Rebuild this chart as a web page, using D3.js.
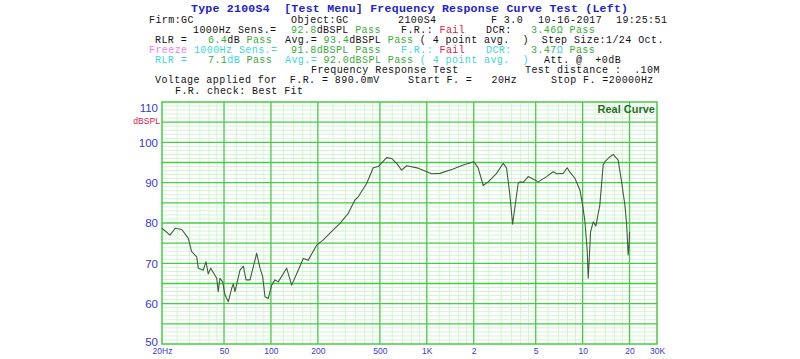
<!DOCTYPE html>
<html><head><meta charset="utf-8">
<script src="https://cdn.jsdelivr.net/npm/d3@7"></script>
<style>body{margin:0;background:#fff}svg{display:block}text{white-space:pre}</style>
</head><body>
<svg id="c" width="800" height="359"></svg>
<script>
// ---------- data ----------
const freqs = [20,22.5,24.3,26.8,29.5,31.0,33.4,34.2,36.8,38.3,39.6,41.1,44.9,45.9,47.1,49.0,50.7,53.3,56.0,57.3,58.8,63.3,66.5,69.2,73.4,81.0,85.1,88.5,91.6,96.1,101.1,106.1,111.4,126.1,135.8,149.7,161.2,173.5,196.5,216.6,251.1,277.2,313.4,345.9,363.3,411.2,453.3,488.1,552.5,594.7,640.4,689.3,742.1,881.1,1074,1214,1478,1712,2006,2138,2302,2478,2805,3092,3251,3414,3553,3730,3859,3957,4155,4473,4703,5185,5871,6471,6805,7504,7958,8282,8917,9600,9992,10337,10694,10853,11014,11245,11686,12161,12897,13542,13886,14945,15693,16905,17775,18665,19140,19596,19887,20000];
const spl = [78.7,77.0,78.7,78.4,76.2,72.9,71.6,68.8,68.3,70.4,67.4,68.8,66.3,63.0,66.3,65.4,62.2,60.5,63.8,64.9,63.0,68.3,69.3,65.9,65.9,72.5,68.8,66.7,61.7,61.3,64.6,65.9,65.4,68.8,64.6,68.3,71.2,70.8,74.5,75.8,78.3,79.9,82.4,85.7,86.5,89.8,93.7,94.0,96.2,96.0,94.8,93.1,94.2,93.6,92.2,92.3,93.4,94.4,95.2,93.6,89.3,90.2,92.3,94.8,93.6,86.9,79.7,85.7,89.8,90.2,90.1,91.5,91.1,90.2,91.5,92.7,92.2,92.3,93.7,92.6,91.1,88.2,84.5,80.5,73.3,66.3,70.8,77.8,80.3,79.3,84.5,94.4,95.2,96.4,97.0,95.6,90.2,84.5,79.9,72.1,75.0,77.8];
const yTicks = [50,60,70,80,90,100,110];
const xTickValues = [20,50,100,200,500,1000,2000,5000,10000,20000,30000];
const xTickLabels = ["20Hz","50","100","200","500","1K","2","5","10","20","30K"];
const majorX = [50,100,200,500,1000,2000,5000,10000,20000];
const minorMult = [1.2,1.4,1.6,1.8,2.5,3,3.5,4,4.5,6,7,8,9];

// header lines: [segments [text,color]], x, baseline y
const K="#111", G="#3aaa3a", R="#e0204a", C="#3dd6d6", P="#f080f0";
const header = [
  [[["Firm:GC",K]],149,23],
  [[["Object:GC",K]],291,23],
  [[["2100S4",K]],398,23],
  [[["F 3.0",K]],491,23],
  [[["10-16-2017",K]],538,23],
  [[["19:25:51",K]],616,23],
  [[["1000Hz Sens.=",K]],193,33],
  [[["92.8",G],["dBSPL",K],[" Pass",G]],291,33],
  [[["F.R.: ",K],["Fail",R]],401,33],
  [[["DCR:",K]],486,33],
  [[["3.46\u03A9 Pass",G]],531,33],
  [[["RLR =",K]],155,43],
  [[["6.4",G],["dB ",K],["Pass",G]],208,43],
  [[["Avg.= ",K],["93.4",G],["dBSPL",K],[" Pass",G],[" ( 4 point avg.  )  Step Size:1/24 Oct.",K]],285,43],
  [[["Freeze ",P],["1000Hz Sens.=",C]],149,53],
  [[["91.8dBSPL Pass",G]],291,53],
  [[["F.R.: ",C],["Fail",R]],401,53],
  [[["DCR:",C]],486,53],
  [[["3.47",G],["\u03A9",C],[" Pass",G]],531,53],
  [[["RLR =",C]],155,63],
  [[["7.1",G],["dB ",C],["Pass",G]],208,63],
  [[["Avg.= ",C],["92.0dBSPL Pass",G],[" ( 4 point avg.  )",C]],285,63],
  [[["Att. @  +0dB",K]],544,63],
  [[["Frequency Response Test",K]],311,73],
  [[["Test distance :  .10M",K]],525,73],
  [[["Voltage applied for  F.R. = 890.0mV",K]],155,83],
  [[["Start F. =   20Hz",K]],408,83],
  [[["Stop F. =20000Hz",K]],551,83],
  [[["F.R. check: Best Fit",K]],175,93.5]
];

// ---------- drawing ----------
const svg = d3.select("#c");
const L=162, T=102, Rr=657, B=344;
const x = d3.scaleLog().domain([20,30000]).range([L,Rr]);
const y = d3.scaleLinear().domain([50,110]).range([B,T]);
const MONO = "'Liberation Mono','Courier New',monospace";
const FS = 10, LS = 0.42, CW = FS*0.6 + LS;

// title
svg.append("text").attr("x",191).attr("y",12)
  .attr("font-family",MONO).attr("font-weight","bold")
  .attr("font-size",11.5).attr("fill","#2222cc")
  .attr("textLength",437).attr("lengthAdjust","spacing")
  .text("Type 2100S4  [Test Menu] Frequency Response Curve Test (Left)");

// header segments, each as its own text
header.forEach(([segs,hx,hy])=>{
  let col = 0;
  segs.forEach(([s,c])=>{
    const lead = s.length - s.trimStart().length;
    const body = s.trim();
    if (body.length) {
      svg.append("text").attr("x",hx+(col+lead)*CW).attr("y",hy)
        .attr("font-family",MONO).attr("font-size",FS)
        .attr("letter-spacing",LS).attr("fill",c).text(body);
    }
    col += s.length;
  });
});

// grid
const g = svg.append("g");
const minorXVals = [];
[10,100,1000,10000].forEach(dec=>minorMult.forEach(m=>{const f=Math.round(dec*m); if(f>20&&f<30000&&!majorX.includes(f)) minorXVals.push(f);}));
const minorY = d3.range(50,111,1).filter(v=>v%5!==0);
g.selectAll(".mx").data(minorXVals).join("line")
  .attr("x1",d=>x(d)).attr("x2",d=>x(d)).attr("y1",T).attr("y2",B)
  .attr("stroke","#d2f3d2").attr("stroke-width",1);
g.selectAll(".my").data(minorY).join("line")
  .attr("x1",L).attr("x2",Rr).attr("y1",d=>y(d)).attr("y2",d=>y(d))
  .attr("stroke","#d2f3d2").attr("stroke-width",1);
g.selectAll(".Mx").data(majorX).join("line")
  .attr("x1",d=>x(d)).attr("x2",d=>x(d)).attr("y1",T).attr("y2",B)
  .attr("stroke","#44cc44").attr("stroke-width",1.3);
g.selectAll(".My").data(d3.range(55,110,5)).join("line")
  .attr("x1",L).attr("x2",Rr).attr("y1",d=>y(d)).attr("y2",d=>y(d))
  .attr("stroke","#44cc44").attr("stroke-width",1.3);
g.append("rect").attr("x",L).attr("y",T).attr("width",Rr-L).attr("height",B-T)
  .attr("fill","none").attr("stroke","#44cc44").attr("stroke-width",1.5);

// curve
const line = d3.line().x((d,i)=>x(freqs[i])).y(d=>y(d));
svg.append("path").attr("d",line(spl)).attr("fill","none")
  .attr("stroke","#3d5e3d").attr("stroke-width",1.1).attr("stroke-linejoin","round");

// axes
const ya = svg.append("g").attr("transform",`translate(${L},0)`)
  .call(d3.axisLeft(y).tickValues(yTicks).tickSize(0).tickPadding(4));
ya.select(".domain").remove();
ya.selectAll("text").attr("font-family","'Liberation Sans',Arial,sans-serif")
  .attr("font-size",11.5).attr("fill","#3838d0")
  .attr("dy",d=>d===110?"0.82em":(d===50?"0.1em":"0.32em"));

const xa = svg.append("g").attr("transform",`translate(0,${B})`)
  .call(d3.axisBottom(x).tickValues(xTickValues).tickFormat((d,i)=>xTickLabels[i]).tickSize(0).tickPadding(4));
xa.select(".domain").remove();
xa.selectAll("text").attr("font-family","'Liberation Sans',Arial,sans-serif")
  .attr("font-size",8.5).attr("fill","#3838d0");

svg.append("text").attr("x",160).attr("y",124).attr("text-anchor","end")
  .attr("font-family","'Liberation Sans',Arial,sans-serif").attr("font-size",8.6)
  .attr("fill","#e02050").text("dBSPL");

svg.append("text").attr("x",655).attr("y",113).attr("text-anchor","end")
  .attr("font-family","'Liberation Sans',Arial,sans-serif").attr("font-size",11)
  .attr("font-weight","bold").attr("fill","#1f6e1f").text("Real Curve");
</script>
</body></html>
